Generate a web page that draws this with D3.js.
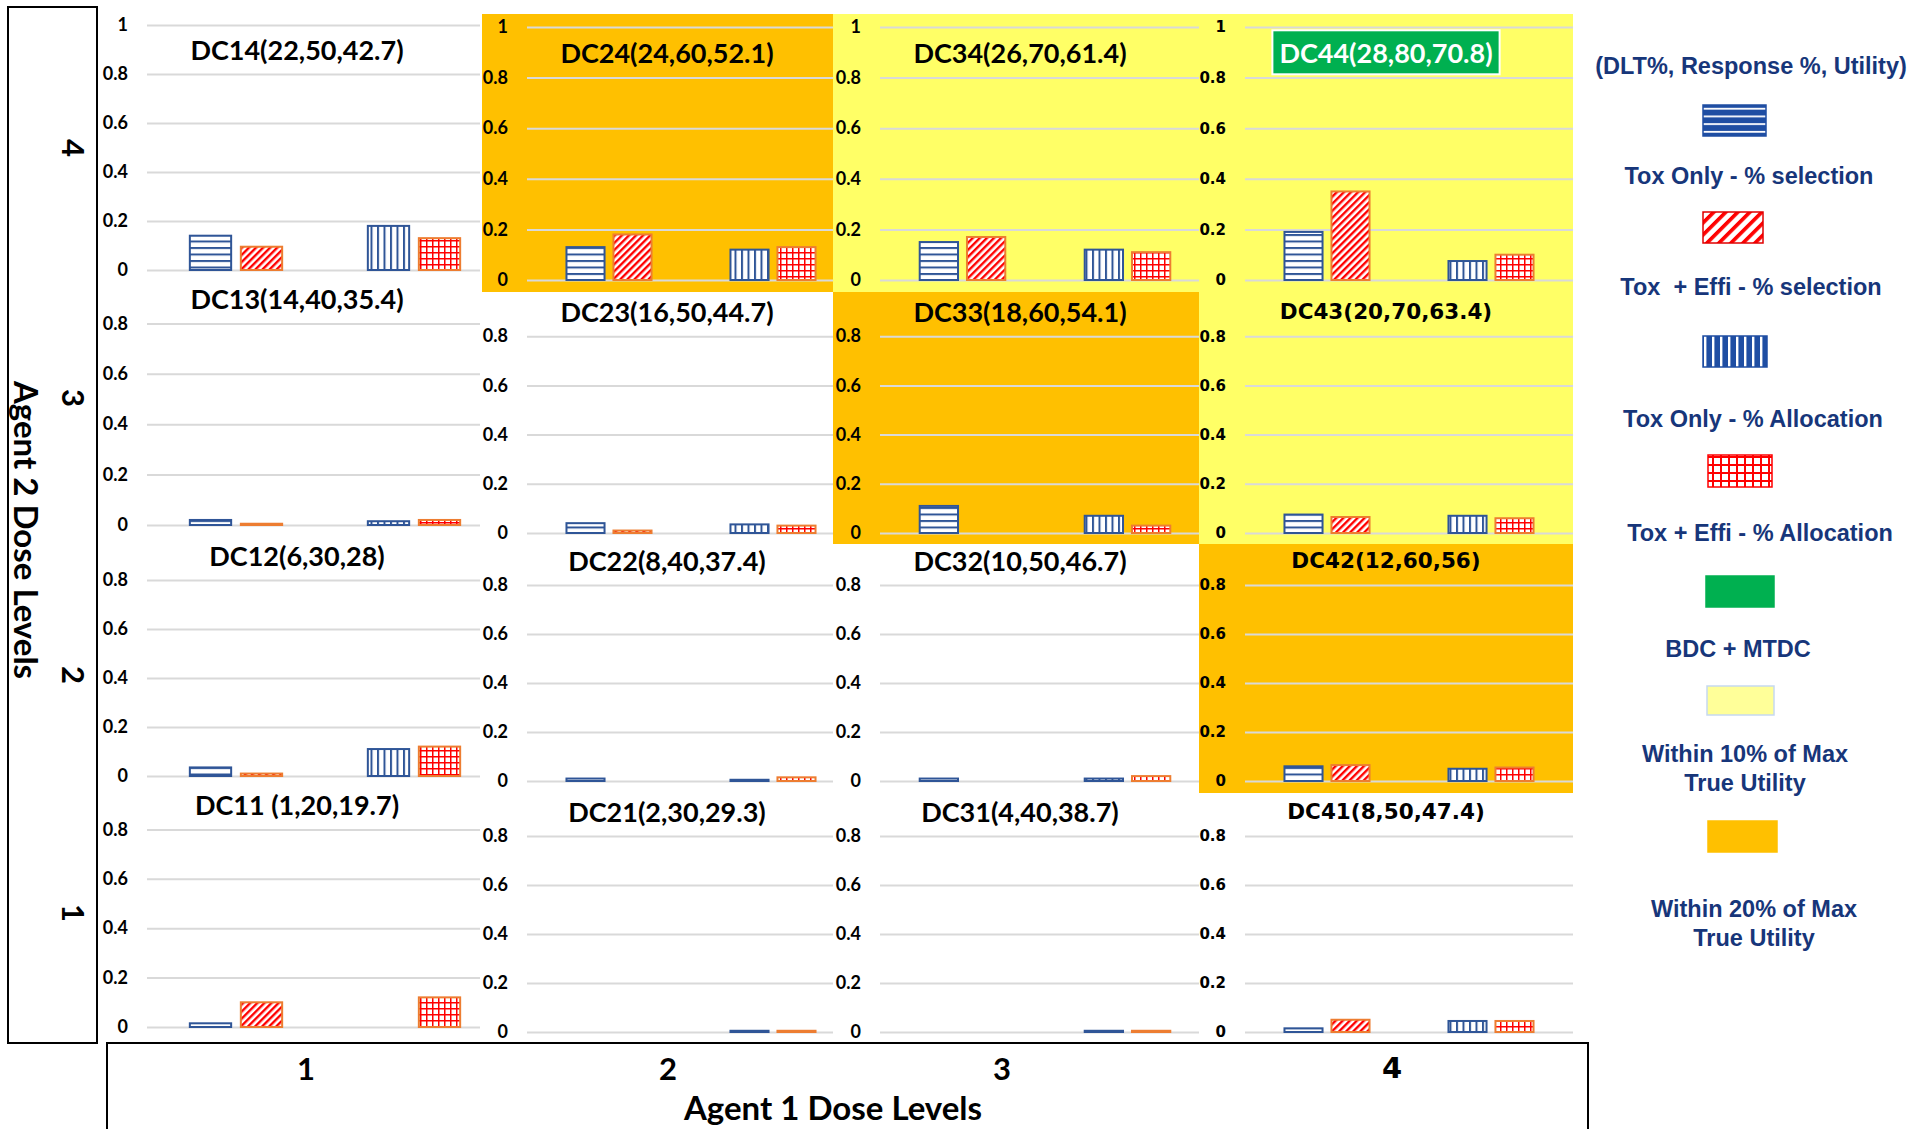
<!DOCTYPE html>
<html>
<head>
<meta charset="utf-8">
<script src="https://cdn.jsdelivr.net/npm/d3@7"></script>
<style>
  html, body { margin: 0; padding: 0; background: #ffffff; }
  svg { display: block; }
</style>
</head>
<body>
<svg id="chart" width="1915" height="1129"></svg>
<script>
// ---- data -------------------------------------------------------------
// Dose combination DCxy: x = agent 1 dose level, y = agent 2 dose level
const agent1Levels = ["1", "2", "3", "4"];
const agent2Levels = ["1", "2", "3", "4"];
const comboIds = ["DC11", "DC12", "DC13", "DC14",
                  "DC21", "DC22", "DC23", "DC24",
                  "DC31", "DC32", "DC33", "DC34",
                  "DC41", "DC42", "DC43", "DC44"];
// (DLT%, Response %, Utility)
const comboLabels = ["DC11 (1,20,19.7)", "DC12(6,30,28)", "DC13(14,40,35.4)", "DC14(22,50,42.7)",
                     "DC21(2,30,29.3)", "DC22(8,40,37.4)", "DC23(16,50,44.7)", "DC24(24,60,52.1)",
                     "DC31(4,40,38.7)", "DC32(10,50,46.7)", "DC33(18,60,54.1)", "DC34(26,70,61.4)",
                     "DC41(8,50,47.4)", "DC42(12,60,56)", "DC43(20,70,63.4)", "DC44(28,80,70.8)"];
// true-utility class of each combination
const utilityClass = ["none", "none", "none", "none",
                      "none", "none", "none", "within20",
                      "none", "none", "within20", "within10",
                      "none", "within20", "within10", "best"];
const toxOnlySelection  = [0.015, 0.035, 0.02, 0.14,  0, 0.01, 0.04, 0.13,  0, 0.01, 0.11, 0.15,  0.015, 0.06, 0.075, 0.19];
const toxEffiSelection  = [0.10, 0.01, 0.005, 0.095,  0, 0, 0.01, 0.18,     0, 0, 0, 0.17,        0.05, 0.065, 0.065, 0.35];
const toxOnlyAllocation = [0, 0.11, 0.015, 0.18,      0.005, 0.005, 0.035, 0.12,  0.005, 0.01, 0.07, 0.12,  0.045, 0.05, 0.07, 0.075];
const toxEffiAllocation = [0.12, 0.12, 0.02, 0.13,    0.005, 0.015, 0.03, 0.13,   0.005, 0.02, 0.03, 0.11,  0.045, 0.055, 0.06, 0.10];
const yTickValues = [0, 0.2, 0.4, 0.6, 0.8, 1];
const barGroups = ["selection", "allocation"];
const designs = ["toxOnly", "toxEffi"];
const legendTitle = "(DLT%, Response %, Utility)";
const legendLabels = ["Tox Only - % selection", "Tox  + Effi - % selection",
                      "Tox Only - % Allocation", "Tox + Effi - % Allocation",
                      "BDC + MTDC", "Within 10% of Max\nTrue Utility", "Within 20% of Max\nTrue Utility"];
const xAxisTitle = "Agent 1 Dose Levels";
const yAxisTitle = "Agent 2 Dose Levels";

// ---- styling / layout ------------------------------------------------
const BLUE = "#2f5597", RED = "#ff0000", ORANGE_EDGE = "#ed7d31";
const LEG_BLUE = "#1f4ea3", NAVY = "#17367a";
const panelFill = { none: "#ffffff", within10: "#ffff66", within20: "#ffc000", best: "#ffff66" };
const CAL = "Lato, 'Open Sans', sans-serif";
const VER = "'DejaVu Sans', Verdana, sans-serif";
const ARIAL = "'Liberation Sans', Arial, sans-serif";

const columns = [
  { x0: 100,  x1: 480,  plotX: 147,  plotW: 356, titleDx: 150, font: CAL, titleSize: 27, tickSize: 18 },
  { x0: 482,  x1: 833,  plotX: 527,  plotW: 328, titleDx: 140, font: CAL, titleSize: 27, tickSize: 18 },
  { x0: 833,  x1: 1199, plotX: 880,  plotW: 330, titleDx: 140, font: CAL, titleSize: 27, tickSize: 18 },
  { x0: 1199, x1: 1573, plotX: 1245, plotW: 328, titleDx: 141, font: VER, titleSize: 21.5, tickSize: 15 }
];
// rows indexed by agent 2 level (1..4); first column sits a little higher
const rowsFirstCol = [
  { y0: 788, y1: 1043, zero: 1027, unit: 247 },
  { y0: 535, y1: 788,  zero: 776,  unit: 245 },
  { y0: 283, y1: 535,  zero: 525,  unit: 252 },
  { y0: 13,  y1: 283,  zero: 270,  unit: 245 }
];
const rowsOther = [
  { y0: 793, y1: 1043, zero: 1032, unit: 245 },
  { y0: 544, y1: 793,  zero: 781,  unit: 245 },
  { y0: 292, y1: 544,  zero: 533,  unit: 246 },
  { y0: 14,  y1: 292,  zero: 280,  unit: 253 }
];

const svg = d3.select("#chart");
const defs = svg.append("defs");

function makePattern(id, w, h, bg, rects, transform) {
  const p = defs.append("pattern").attr("id", id)
    .attr("patternUnits", "userSpaceOnUse").attr("width", w).attr("height", h);
  if (transform) p.attr("patternTransform", transform);
  p.append("rect").attr("width", w).attr("height", h).attr("fill", bg);
  rects.forEach(r => p.append("rect").attr("x", r[0]).attr("y", r[1])
    .attr("width", r[2]).attr("height", r[3]).attr("fill", r[4]));
}
// bar fills
makePattern("bar-hsel", 6, 6.5, "#fff", [[0, 0, 6, 2, BLUE]]);
makePattern("bar-dsel", 5, 5, "#fff", [[0, 0, 2.4, 5, RED]], "rotate(45)");
makePattern("bar-valloc", 6.5, 6, "#fff", [[0, 0, 2, 6, BLUE]]);
makePattern("bar-galloc", 6, 6, "#fff", [[0, 0, 1.5, 6, RED], [0, 0, 6, 1.5, RED]]);
// legend swatch fills (coarser)
makePattern("leg-h", 10, 7.7, LEG_BLUE, [[0, 0, 10, 1.8, "#fff"]]);
makePattern("leg-d", 8.5, 8.5, "#fff", [[0, 0, 3.6, 8.5, RED]], "rotate(45)");
makePattern("leg-v", 8, 10, LEG_BLUE, [[0, 0, 2.4, 10, "#fff"]]);
makePattern("leg-g", 8, 8, "#fff", [[0, 0, 2, 8, RED], [0, 0, 8, 2, RED]]);

const series = [
  { group: "selection",  design: "toxOnly", values: toxOnlySelection,  fill: "url(#bar-hsel)",   stroke: BLUE },
  { group: "selection",  design: "toxEffi", values: toxEffiSelection,  fill: "url(#bar-dsel)",   stroke: ORANGE_EDGE },
  { group: "allocation", design: "toxOnly", values: toxOnlyAllocation, fill: "url(#bar-valloc)", stroke: BLUE },
  { group: "allocation", design: "toxEffi", values: toxEffiAllocation, fill: "url(#bar-galloc)", stroke: ORANGE_EDGE }
];

// ---- one small bar chart per dose combination ------------------------
comboIds.forEach((id, i) => {
  const a1 = agent1Levels.indexOf(id[2]);
  const a2 = agent2Levels.indexOf(id[3]);
  const col = columns[a1];
  const row = (a1 === 0 ? rowsFirstCol : rowsOther)[a2];
  const cls = utilityClass[i];

  defs.append("clipPath").attr("id", "clip-" + id)
    .append("rect").attr("x", col.x0).attr("y", row.y0)
    .attr("width", col.x1 - col.x0).attr("height", row.y1 - row.y0);
  const g = svg.append("g").attr("class", "panel").attr("clip-path", `url(#clip-${id})`);

  g.append("rect").attr("x", col.x0).attr("y", row.y0)
    .attr("width", col.x1 - col.x0).attr("height", row.y1 - row.y0)
    .attr("fill", panelFill[cls]);

  const y = d3.scaleLinear().domain([0, 1]).range([row.zero, row.zero - row.unit]);
  const x0 = d3.scaleBand().domain(barGroups).range([col.plotX, col.plotX + col.plotW]);
  const x1 = d3.scaleBand().domain(designs).range([0, x0.bandwidth()])
    .paddingInner(0.19).paddingOuter(0.84);

  // ticks hidden under the panel above are left out
  const ticks = yTickValues.filter(t => y(t) > row.y0 + 8);
  const axis = d3.axisLeft(y).tickValues(ticks)
    .tickSize(-col.plotW).tickPadding(19).tickFormat(d => String(d));
  const ax = g.append("g").attr("transform", `translate(${col.plotX},0)`).call(axis);
  ax.attr("font-family", null).attr("font-size", null);
  ax.select(".domain").remove();
  ax.selectAll(".tick line").attr("stroke", "#d9d9d9").attr("stroke-width", 2);
  ax.selectAll(".tick text").attr("fill", "#000")
    .style("font-family", col.font).style("font-weight", "bold")
    .style("font-size", col.tickSize + "px");

  series.forEach(s => {
    const v = s.values[i];
    if (!(v > 0)) return;
    g.append("rect")
      .attr("x", x0(s.group) + x1(s.design))
      .attr("y", y(v))
      .attr("width", x1.bandwidth())
      .attr("height", y(0) - y(v))
      .attr("fill", s.fill)
      .attr("stroke", s.stroke)
      .attr("stroke-width", 2);
  });

  const tx = col.plotX + col.titleDx, ty = y(0.9);
  if (cls === "best") {
    const badge = g.append("rect");
    const t = g.append("text").attr("x", tx).attr("y", ty)
      .attr("text-anchor", "middle").attr("dominant-baseline", "central")
      .style("font-family", CAL).style("font-weight", "bold").style("font-size", "27px")
      .attr("fill", "#fff").text(comboLabels[i]);
    const bb = t.node().getBBox();
    badge.attr("x", bb.x - 7).attr("y", ty - 22).attr("width", bb.width + 14).attr("height", 44)
      .attr("fill", "#00b050").attr("stroke", "#fff").attr("stroke-width", 2);
  } else {
    g.append("text").attr("x", tx).attr("y", ty)
      .attr("text-anchor", "middle").attr("dominant-baseline", "central")
      .style("font-family", col.font).style("font-weight", "bold")
      .style("font-size", col.titleSize + "px")
      .attr("fill", "#000").text(comboLabels[i]);
  }
});

// ---- framing boxes and dose-level labels -----------------------------
svg.append("rect").attr("x", 8).attr("y", 7).attr("width", 89).attr("height", 1036)
  .attr("fill", "none").attr("stroke", "#000").attr("stroke-width", 2);
svg.append("rect").attr("x", 107).attr("y", 1043).attr("width", 1481).attr("height", 120)
  .attr("fill", "none").attr("stroke", "#000").attr("stroke-width", 2);

const rowLabelY = [913, 675, 398, 148];
agent2Levels.forEach((lv, k) => {
  svg.append("text").attr("transform", `translate(74,${rowLabelY[k]}) rotate(90)`)
    .attr("text-anchor", "middle").attr("dominant-baseline", "central")
    .style("font-family", CAL).style("font-weight", "bold").style("font-size", "31px")
    .attr("fill", "#000").text(lv);
});
svg.append("text").attr("transform", "translate(27,530) rotate(90)")
  .attr("text-anchor", "middle").attr("dominant-baseline", "central")
  .style("font-family", CAL).style("font-weight", "bold").style("font-size", "33px")
  .attr("fill", "#000").text(yAxisTitle);

const colLabelX = [306, 668, 1002, 1392];
agent1Levels.forEach((lv, k) => {
  svg.append("text").attr("x", colLabelX[k]).attr("y", 1068)
    .attr("text-anchor", "middle").attr("dominant-baseline", "central")
    .style("font-family", k === 3 ? VER : CAL).style("font-weight", "bold")
    .style("font-size", k === 3 ? "29px" : "31px")
    .attr("fill", "#000").text(lv);
});
svg.append("text").attr("x", 833).attr("y", 1107)
  .attr("text-anchor", "middle").attr("dominant-baseline", "central")
  .style("font-family", CAL).style("font-weight", "bold").style("font-size", "33px")
  .attr("fill", "#000").text(xAxisTitle);

// ---- legend ----------------------------------------------------------
const legend = svg.append("g").attr("class", "legend");
legend.append("text").attr("x", 1751).attr("y", 66)
  .attr("text-anchor", "middle").attr("dominant-baseline", "central")
  .style("font-family", ARIAL).style("font-weight", "bold").style("font-size", "23.5px")
  .attr("fill", NAVY).text(legendTitle);

const legendSwatches = [
  { fill: "url(#leg-h)", stroke: LEG_BLUE },
  { fill: "url(#leg-d)", stroke: "#e00000" },
  { fill: "url(#leg-v)", stroke: LEG_BLUE },
  { fill: "url(#leg-g)", stroke: RED },
  { fill: "#00b050", stroke: "#00b050" },
  { fill: "#ffff99", stroke: "#c6d9f1" },
  { fill: "#ffc000", stroke: "#ffc000" }
];
const legendBoxes = [
  { x: 1703, y: 105, w: 63, h: 31, tx: 1749, ty: 176 },
  { x: 1703, y: 212, w: 60, h: 31, tx: 1751, ty: 287 },
  { x: 1703, y: 336, w: 64, h: 31, tx: 1753, ty: 419 },
  { x: 1708, y: 455, w: 64, h: 32, tx: 1760, ty: 533 },
  { x: 1706, y: 576, w: 68, h: 31, tx: 1738, ty: 649 },
  { x: 1707, y: 686, w: 67, h: 29, tx: 1745, ty: 754 },
  { x: 1708, y: 821, w: 69, h: 31, tx: 1754, ty: 909 }
];
legendLabels.forEach((lab, k) => {
  const b = legendBoxes[k], s = legendSwatches[k];
  legend.append("rect").attr("x", b.x).attr("y", b.y).attr("width", b.w).attr("height", b.h)
    .attr("fill", s.fill).attr("stroke", s.stroke).attr("stroke-width", 1.5);
  const t = legend.append("text").attr("x", b.tx).attr("y", b.ty)
    .attr("text-anchor", "middle").attr("dominant-baseline", "central")
    .style("font-family", ARIAL).style("font-weight", "bold").style("font-size", "23.5px")
    .style("white-space", "pre").attr("fill", NAVY);
  lab.split("\n").forEach((line, j) => {
    t.append("tspan").attr("x", b.tx).attr("dy", j === 0 ? 0 : 29).text(line);
  });
});
</script>
</body>
</html>
